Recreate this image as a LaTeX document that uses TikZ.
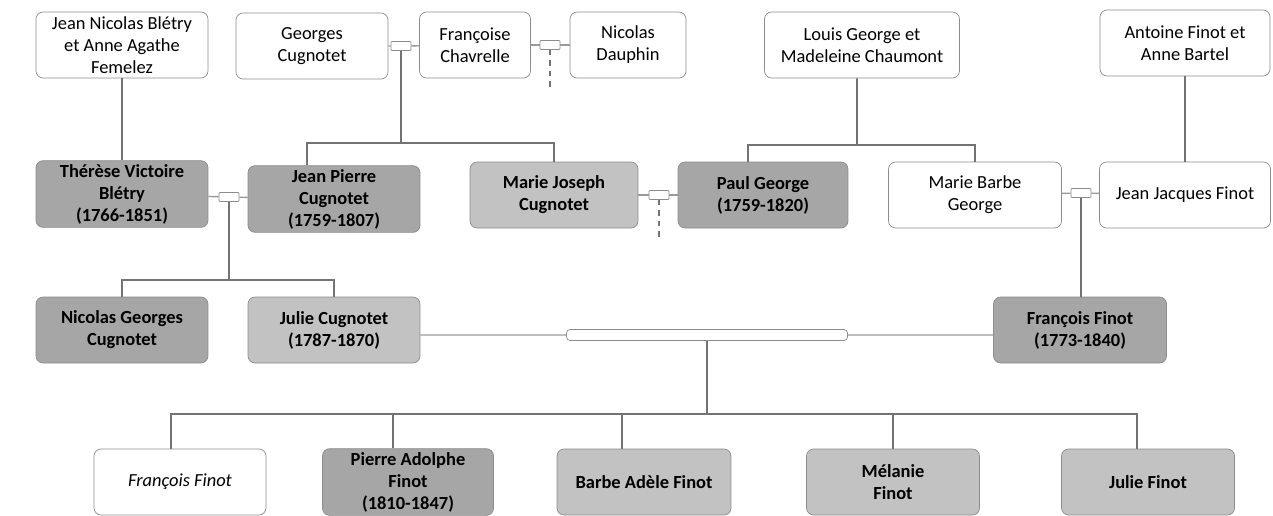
\documentclass[tikz,border=0pt]{standalone}
\usepackage{fontspec}
\setmainfont{Carlito}
\usetikzlibrary{positioning}
\begin{document}
\begin{tikzpicture}[x=0.02cm, y=-0.02cm,
    person/.style = {draw=black!45, rounded corners=4pt, minimum height=1.32cm, minimum width=3.44cm, align=center, inner sep=2pt, font=\fontsize{10.5}{12.5}\selectfont},
    elder/.style = {person, fill=black!35, font=\fontsize{10.5}{12.5}\selectfont\bfseries},
    kin/.style = {person, fill=black!24, font=\fontsize{10.5}{12.5}\selectfont\bfseries},
    union/.style = {draw=black!45, fill=white, rounded corners=0.5pt, minimum width=0.4cm, minimum height=0.18cm, inner sep=0pt},
    link/.style = {draw=black!55, line width=1.1pt},
    tie/.style = {draw=black!40, line width=0.8pt},
    doubt/.style = {link, dashed}]
    \useasboundingbox (0,0) rectangle (1273,515);
    % first generation
    \node [person] (bletry_par) at (122,45) {Jean Nicolas Blétry\\et Anne Agathe\\Femelez};
    \node [person, minimum width=3.04cm] (georges) at (312,46) {Georges\\Cugnotet};
    \node [person, minimum width=2.22cm] (chavrelle) at (475,45) {Françoise\\Chavrelle};
    \node [person, minimum width=2.32cm] (dauphin) at (628,45) {Nicolas\\Dauphin};
    \node [person, minimum width=3.9cm] (george_par) at (862,45) {Louis George et\\Madeleine Chaumont};
    \node [person, minimum width=3.4cm] (finot_par) at (1185,43) {Antoine Finot et\\Anne Bartel};
    \node [union] (u_cug) at (401,46) {};
    \node [union] (u_dau) at (550,45) {};
    % second generation
    \node [elder] (therese) at (122,194) {Thérèse Victoire\\Blétry\\(1766-1851)};
    \node [elder] (jean_pierre) at (334,199) {Jean Pierre\\Cugnotet\\(1759-1807)};
    \node [kin, minimum width=3.36cm] (marie_joseph) at (554,195) {Marie Joseph\\Cugnotet};
    \node [elder, minimum width=3.4cm] (paul) at (763,195) {Paul George\\(1759-1820)};
    \node [person, minimum width=3.46cm] (marie_barbe) at (975,195) {Marie Barbe\\George};
    \node [person, minimum width=3.42cm] (jean_jacques) at (1185,195) {Jean Jacques Finot};
    \node [union] (u_ble) at (229,197) {};
    \node [union] (u_pau) at (659,195) {};
    \node [union] (u_jac) at (1081,193) {};
    % third generation
    \node [elder] (nicolas_g) at (122,330) {Nicolas Georges\\Cugnotet};
    \node [kin] (julie_c) at (334,330) {Julie Cugnotet\\(1787-1870)};
    \node [elder, minimum width=3.46cm] (francois) at (1080,330) {François Finot\\(1773-1840)};
    \node [union, minimum width=5.62cm, minimum height=0.22cm, rounded corners=2pt] (u_fin) at (707,335) {};
    % fourth generation
    \node [person, font=\fontsize{10.5}{12.5}\selectfont\itshape] (ff_child) at (180,482) {François Finot};
    \node [elder, minimum width=3.42cm] (pierre) at (408,482) {Pierre Adolphe\\Finot\\(1810-1847)};
    \node [kin, minimum width=3.48cm] (barbe) at (644,482) {Barbe Adèle Finot};
    \node [kin, minimum width=3.46cm] (melanie) at (893,482) {Mélanie\\Finot};
    \node [kin, minimum width=3.46cm] (julie_f) at (1148,482) {Julie Finot};
    % junctions
    \coordinate (cug_bar) at (401,143);
    \coordinate (geo_bar) at (857,145);
    \coordinate (ble_bar) at (229,280);
    \coordinate (fin_bar) at (707,414);
    \coordinate (dau_end) at (550,88);
    \coordinate (pau_end) at (659,238);
    % couples
    \draw[tie] (georges) -- (u_cug) -- (chavrelle);
    \draw[tie] (chavrelle) -- (u_dau) -- (dauphin);
    \draw[tie] (therese) -- (u_ble) -- (jean_pierre);
    \draw[tie] (marie_joseph) -- (u_pau) -- (paul);
    \draw[tie] (marie_barbe) -- (u_jac) -- (jean_jacques);
    \draw[tie] ([yshift=-0.1cm]julie_c.east) -- (u_fin) -- ([yshift=-0.1cm]francois.west);
    % descent
    \draw[link] (bletry_par) -- (therese);
    \draw[link] (finot_par) -- (jean_jacques);
    \draw[link] (u_cug.south) -- (cug_bar);
    \draw[link] ([xshift=-0.54cm]jean_pierre.north) |- (cug_bar) -| (marie_joseph.north);
    \draw[link] ([xshift=-0.1cm]george_par.south) -- (geo_bar);
    \draw[link] ([xshift=-0.3cm]paul.north) |- (geo_bar) -| (marie_barbe.north);
    \draw[link] (u_ble.south) -- (ble_bar);
    \draw[link] (nicolas_g.north) |- (ble_bar) -| (julie_c.north);
    \draw[link] (u_jac.south) -- (u_jac.south |- francois.north);
    \draw[link] (u_fin.south) -- (fin_bar);
    \draw[link] ([xshift=-0.18cm]ff_child.north) |- (fin_bar) -| ([xshift=-0.22cm]julie_f.north);
    \draw[link] ([xshift=-0.3cm]pierre.north) |- (fin_bar);
    \draw[link] ([xshift=-0.44cm]barbe.north) |- (fin_bar);
    \draw[link] (melanie.north) |- (fin_bar);
    % unknown offspring
    \draw[doubt] (u_dau.south) -- (dau_end);
    \draw[doubt] (u_pau.south) -- (pau_end);
  \end{tikzpicture}
\end{document}
